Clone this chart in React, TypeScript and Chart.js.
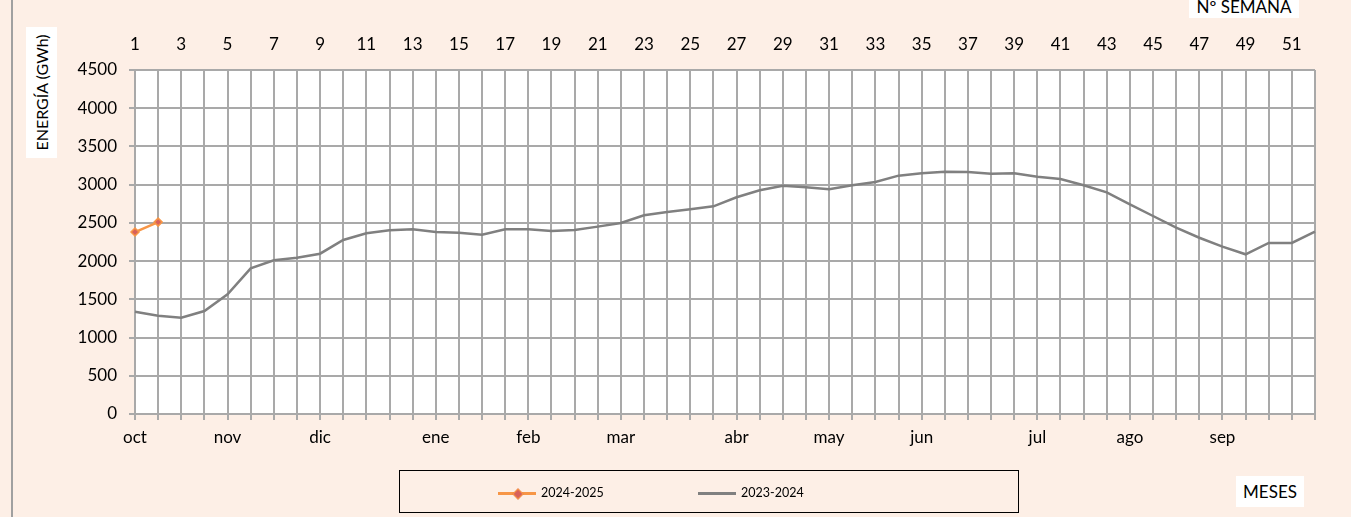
import React, { useEffect, useRef } from "react";
import { Chart, registerables } from "chart.js";

Chart.register(...registerables);

const weekLabels = [
  "1", "2", "3", "4", "5", "6", "7", "8", "9", "10",
  "11", "12", "13", "14", "15", "16", "17", "18", "19", "20",
  "21", "22", "23", "24", "25", "26", "27", "28", "29", "30",
  "31", "32", "33", "34", "35", "36", "37", "38", "39", "40",
  "41", "42", "43", "44", "45", "46", "47", "48", "49", "50",
  "51", "52",
];

const monthNames = ["oct", "nov", "dic", "ene", "feb", "mar", "abr", "may", "jun", "jul", "ago", "sep"];
const monthStartWeek = [1, 5, 9, 14, 18, 22, 27, 31, 35, 40, 44, 48];

const series2024_2025 = [2380, 2510];

const series2023_2024 = [
  1338, 1286, 1260, 1347, 1566, 1906, 2010, 2045, 2097, 2276,
  2364, 2403, 2416, 2381, 2372, 2346, 2416, 2416, 2394, 2407,
  2451, 2499, 2599, 2643, 2678, 2717, 2835, 2926, 2987, 2966,
  2940, 2992, 3035, 3118, 3149, 3170, 3166, 3144, 3149, 3105,
  3075, 2992, 2900, 2743, 2590, 2437, 2306, 2189, 2089, 2237,
  2237, 2385,
];

const yMin = 0;
const yMax = 4500;
const yStep = 500;

const FONT = "Lato, 'Open Sans', sans-serif";
const BG = "#FDEFE6";
const GRID = "#A9A9A9";
const AXIS_FONT = 17;

const plotBg = {
  id: "plotBg",
  beforeDraw(chart: any) {
    const { ctx, chartArea } = chart;
    ctx.save();
    ctx.fillStyle = "#FFFFFF";
    ctx.fillRect(chartArea.left, chartArea.top, chartArea.right - chartArea.left, chartArea.bottom - chartArea.top);
    ctx.restore();
  },
};

export default function App() {
  const canvasRef = useRef<HTMLCanvasElement | null>(null);

  useEffect(() => {
    document.body.style.margin = "0";
    const canvas = canvasRef.current;
    if (!canvas) return;
    Chart.defaults.font.family = FONT;
    const monthLabelFor = (idx: number) => {
      const k = monthStartWeek.indexOf(idx + 1);
      return k >= 0 ? monthNames[k] : "";
    };
    const chart = new Chart(canvas, {
      type: "line",
      data: {
        labels: weekLabels,
        datasets: [
          {
            label: "2024-2025",
            data: series2024_2025,
            borderColor: "#F79646",
            borderWidth: 2.5,
            pointStyle: "rectRot",
            pointRadius: 4,
            pointBackgroundColor: "#D8605A",
            pointBorderColor: "#F79646",
            pointBorderWidth: 1.5,
            tension: 0,
            xAxisID: "x",
            yAxisID: "y",
          },
          {
            label: "2023-2024",
            data: series2023_2024,
            borderColor: "#808080",
            borderWidth: 2.5,
            pointRadius: 0,
            tension: 0,
            xAxisID: "x",
            yAxisID: "y",
          },
        ],
      },
      options: {
        animation: false,
        responsive: false,
        maintainAspectRatio: false,
        layout: { padding: { left: 0, right: 36, top: 0, bottom: 63 } },
        plugins: {
          legend: { display: false },
          title: { display: false },
          tooltip: { enabled: false },
        },
        scales: {
          x: {
            type: "category",
            position: "bottom",
            offset: false,
            afterFit: (s: any) => { s.height = 40; },
            grid: {
              display: true,
              drawOnChartArea: true,
              drawTicks: true,
              tickLength: 6,
              color: GRID,
              lineWidth: 2,
            },
            border: { display: true, color: GRID, width: 2 },
            ticks: {
              autoSkip: false,
              maxRotation: 0,
              minRotation: 0,
              padding: 7,
              color: "#000",
              font: { size: AXIS_FONT, family: FONT },
              callback: (_v: any, i: number) => monthLabelFor(i),
            },
          },
          x2: {
            type: "category",
            position: "top",
            labels: weekLabels,
            offset: false,
            afterFit: (s: any) => { s.height = 70; },
            grid: { display: true, drawOnChartArea: false, drawTicks: false },
            border: { display: false },
            ticks: {
              autoSkip: false,
              maxRotation: 0,
              minRotation: 0,
              padding: 15,
              color: "#000",
              font: { size: AXIS_FONT, family: FONT },
              callback: (_v: any, i: number) => (i % 2 === 0 ? weekLabels[i] : ""),
            },
          },
          y: {
            type: "linear",
            position: "left",
            min: yMin,
            max: yMax,
            afterFit: (s: any) => { s.width = 135; },
            grid: {
              color: GRID,
              lineWidth: 2,
              drawTicks: true,
              tickLength: 6,
            },
            border: { display: true, color: GRID, width: 2 },
            ticks: {
              stepSize: yStep,
              padding: 12,
              color: "#000",
              font: { size: AXIS_FONT, family: FONT },
              callback: (v: any) => String(v),
            },
          },
        },
      },
      plugins: [plotBg],
    });
    return () => chart.destroy();
  }, []);

  const box: React.CSSProperties = {
    position: "absolute",
    background: "#FFFFFF",
    color: "#000",
    fontFamily: FONT,
    fontSize: 17,
    display: "flex",
    alignItems: "center",
    justifyContent: "center",
    whiteSpace: "nowrap",
  };

  return (
    <div style={{ position: "absolute", left: 0, top: 0, width: 1351, height: 517, background: BG, overflow: "hidden" }}>
      <div style={{ position: "absolute", left: 11, top: 0, width: 2, height: 517, background: "#A0A0A0" }} />
      <canvas ref={canvasRef} width={1351} height={517} style={{ position: "absolute", left: 0, top: 0, width: 1351, height: 517 }} />
      <div style={{ ...box, left: 26, top: 27, width: 31, height: 131 }}>
        <span style={{ transform: "rotate(-90deg)", display: "inline-block", fontSize: 16 }}>ENERGÍA (GWh)</span>
      </div>
      <div style={{ ...box, left: 1189, top: -6, width: 110, height: 24 }}>Nº SEMANA</div>
      <div style={{ ...box, left: 1236, top: 476, width: 68, height: 31 }}>MESES</div>
      <div
        style={{
          position: "absolute",
          left: 399,
          top: 470,
          width: 618,
          height: 41,
          border: "1.5px solid #000",
          fontFamily: FONT,
          fontSize: 12.5,
          color: "#000",
        }}
      >
        <div style={{ position: "absolute", left: 98, top: 21, width: 38, height: 3, background: "#F79646" }} />
        <div
          style={{
            position: "absolute",
            left: 114,
            top: 19,
            width: 6,
            height: 6,
            background: "#D8605A",
            border: "1px solid #F79646",
            transform: "rotate(45deg)",
          }}
        />
        <div style={{ position: "absolute", left: 141, top: 12, lineHeight: "20px" }}>2024-2025</div>
        <div style={{ position: "absolute", left: 298, top: 21, width: 38, height: 3, background: "#808080" }} />
        <div style={{ position: "absolute", left: 341, top: 12, lineHeight: "20px" }}>2023-2024</div>
      </div>
    </div>
  );
}
